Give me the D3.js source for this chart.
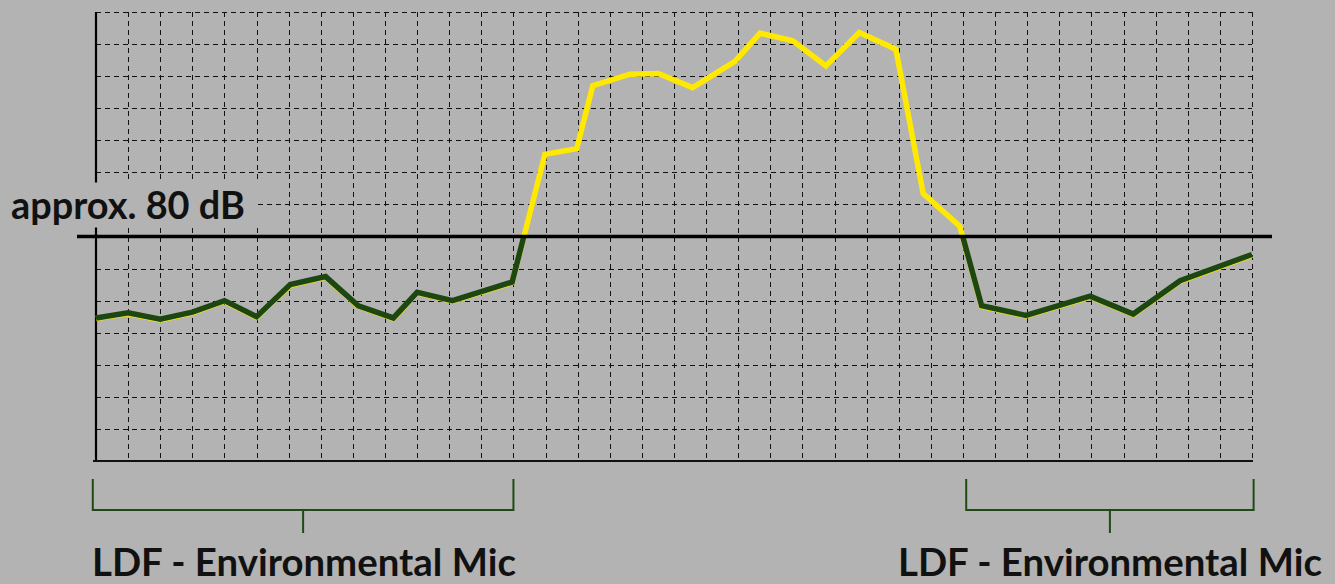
<!DOCTYPE html>
<html>
<head>
<meta charset="utf-8">
<script src="https://cdn.jsdelivr.net/npm/d3@7"></script>
<style>
  html, body { margin: 0; padding: 0; background: #b3b3b3; }
  svg { display: block; }
  text { font-family: Lato, "Open Sans", sans-serif; font-weight: 700; fill: #111; }
</style>
</head>
<body>
<div id="chart"></div>
<script>
// ---------- DATA ---------- //
// time in grid units, level in dB
const timeSteps = [0, 1, 2, 3, 4, 5, 6.05, 7.15, 8.17, 9.26, 10, 11.1, 12.96,
  13.98, 14.97, 15.47, 16.63, 17.51, 18.58, 19.9, 20.68, 21.7, 22.73, 23.77,
  24.91, 25.76, 26.9, 27.58, 28.96, 30.96, 32.3, 33.76, 36];
const levelDb = [67.3, 68.1, 67.1, 68.2, 70.0, 67.5, 72.5, 73.75, 69.2, 67.3,
  71.3, 70.0, 72.9, 92.9, 93.8, 103.6, 105.4, 105.5, 103.3, 107.4, 111.8,
  110.6, 106.7, 111.9, 109.3, 86.8, 81.7, 69.2, 67.7, 70.7, 67.9, 73.1, 77.2];
const thresholdDb = 80;
const thresholdLabel = 'approx. 80 dB';
const bracketLabels = ['LDF - Environmental Mic', 'LDF - Environmental Mic'];
const bracketSpans = [[-0.1, 13], [27.1, 36.05]];

// ---------- LAYOUT ---------- //
const W = 1335, H = 584;
const x0 = 96, x1 = 1252, yTop = 12, yBot = 461;
const yellow = '#ffe900', green = '#1d4712', bracketGreen = '#1f4a14';

const svg = d3.select('#chart').append('svg')
  .attr('width', W).attr('height', H);

const x = d3.scaleLinear().domain([0, 36]).range([x0, x1]);
const y = d3.scaleLinear().domain([45, 115]).range([yBot, yTop]);

// grid
const grid = svg.append('g')
  .attr('stroke', '#111').attr('stroke-width', 1)
  .attr('stroke-dasharray', '5,4').attr('fill', 'none');

grid.selectAll('line.v')
  .data(d3.range(1, 37))
  .enter().append('line')
  .attr('class', 'v')
  .attr('x1', d => Math.round(x(d)) + 0.5).attr('x2', d => Math.round(x(d)) + 0.5)
  .attr('y1', yTop).attr('y2', yBot);

grid.selectAll('line.h')
  .data(d3.range(50, 116, 5))
  .enter().append('line')
  .attr('class', 'h')
  .attr('x1', x0).attr('x2', x1)
  .attr('y1', d => Math.round(y(d)) + 0.5).attr('y2', d => Math.round(y(d)) + 0.5);

// axes
svg.append('line')
  .attr('x1', x0).attr('x2', x0).attr('y1', yTop).attr('y2', yBot)
  .attr('stroke', '#000').attr('stroke-width', 2.2);
svg.append('line')
  .attr('x1', x0 - 3).attr('x2', x1 + 1).attr('y1', yBot).attr('y2', yBot)
  .attr('stroke', '#111').attr('stroke-width', 2);

// threshold label (background patch hides grid behind it)
const ty = y(thresholdDb);
svg.append('rect')
  .attr('x', 0).attr('y', ty - 54).attr('width', 258).attr('height', 45)
  .attr('fill', '#b3b3b3');
const lab = svg.append('text')
  .attr('x', 11).attr('y', ty - 18)
  .attr('font-size', 27)
  .text(thresholdLabel);
fitWidth(lab, 234, 27);

// line
const line = d3.line().x(d => x(d[0])).y(d => y(d[1]));
const pts = timeSteps.map((t, i) => [t, levelDb[i]]);

svg.append('clipPath').attr('id', 'below')
  .append('rect')
  .attr('x', 0).attr('y', ty).attr('width', W).attr('height', H);

svg.append('path')
  .datum(pts)
  .attr('d', line)
  .attr('fill', 'none')
  .attr('stroke', yellow)
  .attr('stroke-width', 5.5)
  .attr('stroke-linejoin', 'miter')
  .attr('transform', 'translate(0,0.6)');

svg.append('path')
  .datum(pts)
  .attr('d', line)
  .attr('clip-path', 'url(#below)')
  .attr('fill', 'none')
  .attr('stroke', green)
  .attr('stroke-width', 5.5)
  .attr('stroke-linejoin', 'miter');

// threshold line
svg.append('line')
  .attr('x1', 77).attr('x2', 1272)
  .attr('y1', ty).attr('y2', ty)
  .attr('stroke', '#000').attr('stroke-width', 3.6);

// brackets
const brTop = 479, brMid = 510, brTick = 533;
const textX = [92, 898];
bracketSpans.forEach((s, i) => {
  const a = x(s[0]), b = x(s[1]);
  svg.append('path')
    .attr('d', `M${a},${brTop}V${brMid}H${b}V${brTop}M${(a + b) / 2},${brMid}V${brTick}`)
    .attr('fill', 'none')
    .attr('stroke', bracketGreen)
    .attr('stroke-width', 2);
  const t = svg.append('text')
    .attr('x', textX[i]).attr('y', 576)
    .attr('font-size', 36)
    .text(bracketLabels[i]);
  fitWidth(t, 424, 36);
});

function fitWidth(sel, width, size) {
  const w = sel.node().getComputedTextLength();
  sel.attr('font-size', size * width / w);
}
</script>
</body>
</html>
